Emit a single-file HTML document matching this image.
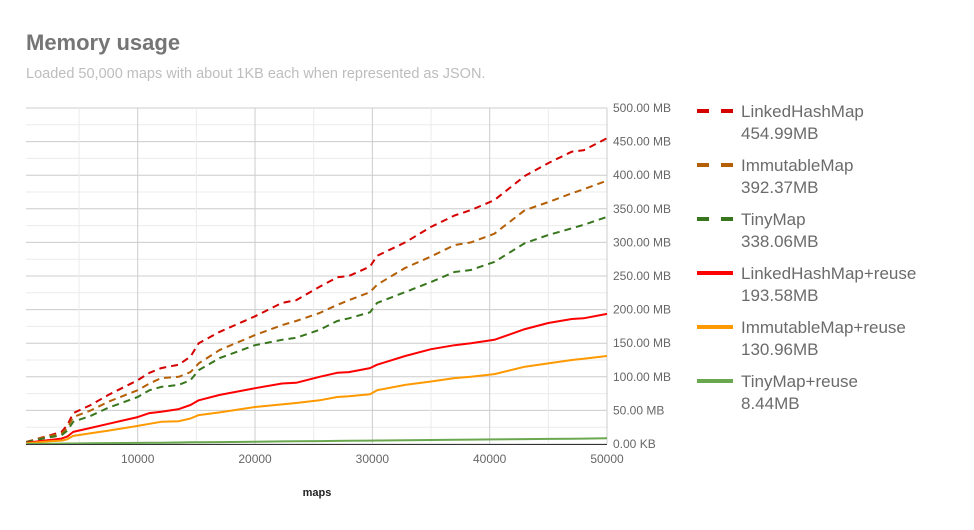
<!DOCTYPE html>
<html><head><meta charset="utf-8"><style>
body{margin:0;background:#fff;width:974px;height:525px;overflow:hidden;font-family:"Liberation Sans",sans-serif}
svg text{font-family:"Liberation Sans",sans-serif}
</style></head><body>
<svg id="c" width="974" height="525">
<text x="26" y="50" font-size="22" font-weight="bold" fill="#757575">Memory usage</text>
<text x="26" y="78" font-size="14.5" fill="#bdbdbd">Loaded 50,000 maps with about 1KB each when represented as JSON.</text>
<text x="317" y="496" font-size="11" font-weight="bold" fill="#222" text-anchor="middle">maps</text>
<g id="grid"></g><g id="lines"></g><g id="axes"></g><g id="legend"></g>
</svg>
<script>
const xs=[500,2500,3500,4000,4500,6000,7500,10000,11000,12000,13500,14500,15200,17000,20000,22300,23500,25500,27000,28000,29800,30400,32800,35000,37000,38400,40400,43000,45000,47000,48000,50000];
const lhm=[3,13,18,28,46,58,73,95,106,113,118,130,150,167,190,210,214,234,248,250,264,280,300,323,340,348,363,399,418,435,437,455];
const imm=[3,12,15,24,40,50,63,80,90,98,100,107,120,140,162,177,183,195,207,214,226,237,262,279,296,300,313,348,360,373,379,392];
const tiny=[3,10,13,20,33,42,54,70,80,85,88,95,110,128,147,155,158,170,183,187,196,210,226,241,256,259,271,299,311,321,326,338];
const lhmR=[2,6,8,11,18,24,30,40,46,48,52,58,65,73,83,90,91,100,106,107,113,118,131,141,147,150,155,171,180,186,187,193.6];
const immR=[1,4,5,7,12,16,20,27,30,33,34,38,43,47,55,59,61,65,70,71,74,80,88,93,98,100,104,115,120,125,127,131];
const tinyR=[0.1,0.4,0.6,0.7,0.8,1.0,1.3,1.7,1.9,2.0,2.3,2.5,2.6,2.9,3.4,3.8,4.0,4.3,4.6,4.8,5.1,5.2,5.6,6.0,6.3,6.5,6.8,7.3,7.6,7.9,8.1,8.44];
const yTicks=["0.00 KB","50.00 MB","100.00 MB","150.00 MB","200.00 MB","250.00 MB","300.00 MB","350.00 MB","400.00 MB","450.00 MB","500.00 MB"];
const xTicks=[10000,20000,30000,40000,50000];
const names=["LinkedHashMap","ImmutableMap","TinyMap","LinkedHashMap+reuse","ImmutableMap+reuse","TinyMap+reuse"];
const finals=["454.99MB","392.37MB","338.06MB","193.58MB","130.96MB","8.44MB"];
const NS="http://www.w3.org/2000/svg";
const L=26,R=607,T=108,B=444;
const X=v=>20.4+v*(R-20.4)/50000;
const Y=v=>B-v*(B-T)/500;
function mk(tag,at,p){const e=document.createElementNS(NS,tag);for(const k in at)e.setAttribute(k,at[k]);p.appendChild(e);return e;}
const g=document.getElementById('grid');
for(let m=0;m<=500;m+=25){const l=mk('line',{x1:L,x2:R,y1:Y(m),y2:Y(m),stroke:m%50?'#ebebeb':'#cccccc','stroke-width':1},g);

}
for(let v=5000;v<=50000;v+=5000){const l=mk('line',{x1:X(v),x2:X(v),y1:T,y2:B,stroke:v%10000?'#ebebeb':'#cccccc','stroke-width':1},g);

}
const ax=document.getElementById('axes');
const base=mk('line',{x1:L,x2:R,y1:B+0.5,y2:B+0.5,stroke:'#333','stroke-width':1},ax);


yTicks.forEach((t,i)=>{const e=mk('text',{x:613,y:Y(i*50)+4,'font-size':12,fill:'#666'},ax);e.textContent=t;

});
xTicks.forEach(t=>{const e=mk('text',{x:X(t),y:463,'font-size':12,fill:'#666','text-anchor':'middle'},ax);e.textContent=t;

});
const series=[lhm,imm,tiny,lhmR,immR,tinyR];
const cols=['#d50000','#b45f06','#38761d','#ff0000','#ff9900','#6aa84f'];
const dash=[true,true,true,false,false,false];
const lg=document.getElementById('lines');
series.forEach((s,i)=>{const d=s.map((v,j)=>(j?'L':'M')+X(xs[j]).toFixed(1)+','+Y(v).toFixed(1)).join('');
const p=mk('path',{d:d,fill:'none',stroke:cols[i],'stroke-width':2,'stroke-dasharray':dash[i]?'7,5':'none','stroke-linejoin':'round'},lg);

});
const leg=document.getElementById('legend');
names.forEach((n,i)=>{const y0=112+i*54;
const gg=mk('g',{},leg);


mk('line',{x1:697,x2:733,y1:y0-1,y2:y0-1,stroke:cols[i],'stroke-width':4,'stroke-dasharray':dash[i]?'12,12':'none'},gg);
const t=mk('text',{x:741,y:y0+5,'font-size':17,fill:'#6b6b6b'},gg);t.textContent=n;
const t2=mk('text',{x:741,y:y0+27,'font-size':17,fill:'#6b6b6b'},gg);t2.textContent=finals[i];});
</script>
</body></html>
